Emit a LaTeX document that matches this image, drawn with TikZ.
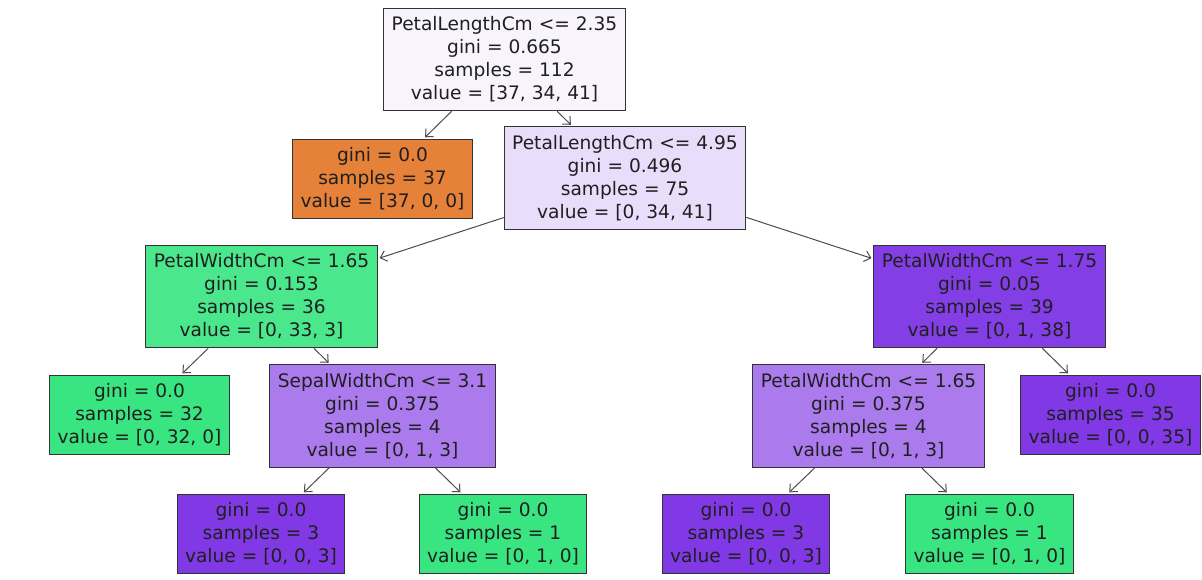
\documentclass[tikz,border=0pt]{standalone}
\usepackage{fontspec}
\setmainfont{DejaVu Sans}
\usepackage{tikz}
\usetikzlibrary{arrows.meta}
\usepackage{xcolor}
\definecolor{irisA}{RGB}{229, 129, 57}
\definecolor{irisB}{RGB}{57, 229, 129}
\definecolor{irisC}{RGB}{129, 57, 229}
\definecolor{rootC}{RGB}{248, 244, 254}
\definecolor{paleC}{RGB}{234, 221, 251}
\definecolor{deepB}{RGB}{75, 231, 140}
\definecolor{deepC}{RGB}{132, 62, 230}
\definecolor{midC}{RGB}{171, 123, 238}

\begin{document}
\begin{tikzpicture}[x=1pt, y=-1pt,
  box/.style={draw=black!80, line width=1pt, align=center, text=black!88,
    inner xsep=8pt, inner ysep=8.5pt, font=\fontsize{18.6}{23}\selectfont},
  edge/.style={draw=black!70, line width=1pt,
    -{Straight Barb[length=6pt, width=11pt]}, shorten >=2pt}]
  \useasboundingbox (0,0) rectangle (1202,579);

  % depth 0 and 1
  \node[box, fill=rootC] (root) at (504.5,59.5)
    {PetalLengthCm <= 2.35\\gini = 0.665\\samples = 112\\value = [37, 34, 41]};
  \node[box, fill=irisA] (setosa) at (382.5,179)
    {gini = 0.0\\samples = 37\\value = [37, 0, 0]};
  \node[box, fill=paleC] (pl) at (625,178)
    {PetalLengthCm <= 4.95\\gini = 0.496\\samples = 75\\value = [0, 34, 41]};

  % depth 2
  \node[box, fill=deepB] (pwL) at (261.5,296.5)
    {PetalWidthCm <= 1.65\\gini = 0.153\\samples = 36\\value = [0, 33, 3]};
  \node[box, fill=deepC] (pwR) at (989.5,296.5)
    {PetalWidthCm <= 1.75\\gini = 0.05\\samples = 39\\value = [0, 1, 38]};

  % depth 3
  \node[box, fill=irisB] (leafL) at (139.5,415)
    {gini = 0.0\\samples = 32\\value = [0, 32, 0]};
  \node[box, fill=midC] (sw) at (382.5,416)
    {SepalWidthCm <= 3.1\\gini = 0.375\\samples = 4\\value = [0, 1, 3]};
  \node[box, fill=midC] (pw) at (868.5,416)
    {PetalWidthCm <= 1.65\\gini = 0.375\\samples = 4\\value = [0, 1, 3]};
  \node[box, fill=irisC] (leafR) at (1110.5,415)
    {gini = 0.0\\samples = 35\\value = [0, 0, 35]};

  % depth 4
  \node[box, fill=irisC] (swL) at (261,534)
    {gini = 0.0\\samples = 3\\value = [0, 0, 3]};
  \node[box, fill=irisB] (swR) at (503,534)
    {gini = 0.0\\samples = 1\\value = [0, 1, 0]};
  \node[box, fill=irisC] (pwa) at (746,534)
    {gini = 0.0\\samples = 3\\value = [0, 0, 3]};
  \node[box, fill=irisB] (pwb) at (989.5,534)
    {gini = 0.0\\samples = 1\\value = [0, 1, 0]};

  % arrows
  \foreach \a/\b in {root/setosa, root/pl, pl/pwL, pl/pwR, pwL/leafL, pwL/sw,
      pwR/pw, pwR/leafR, sw/swL, sw/swR, pw/pwa, pw/pwb}
    \draw[edge] (\a) -- (\b);
\end{tikzpicture}
\end{document}
